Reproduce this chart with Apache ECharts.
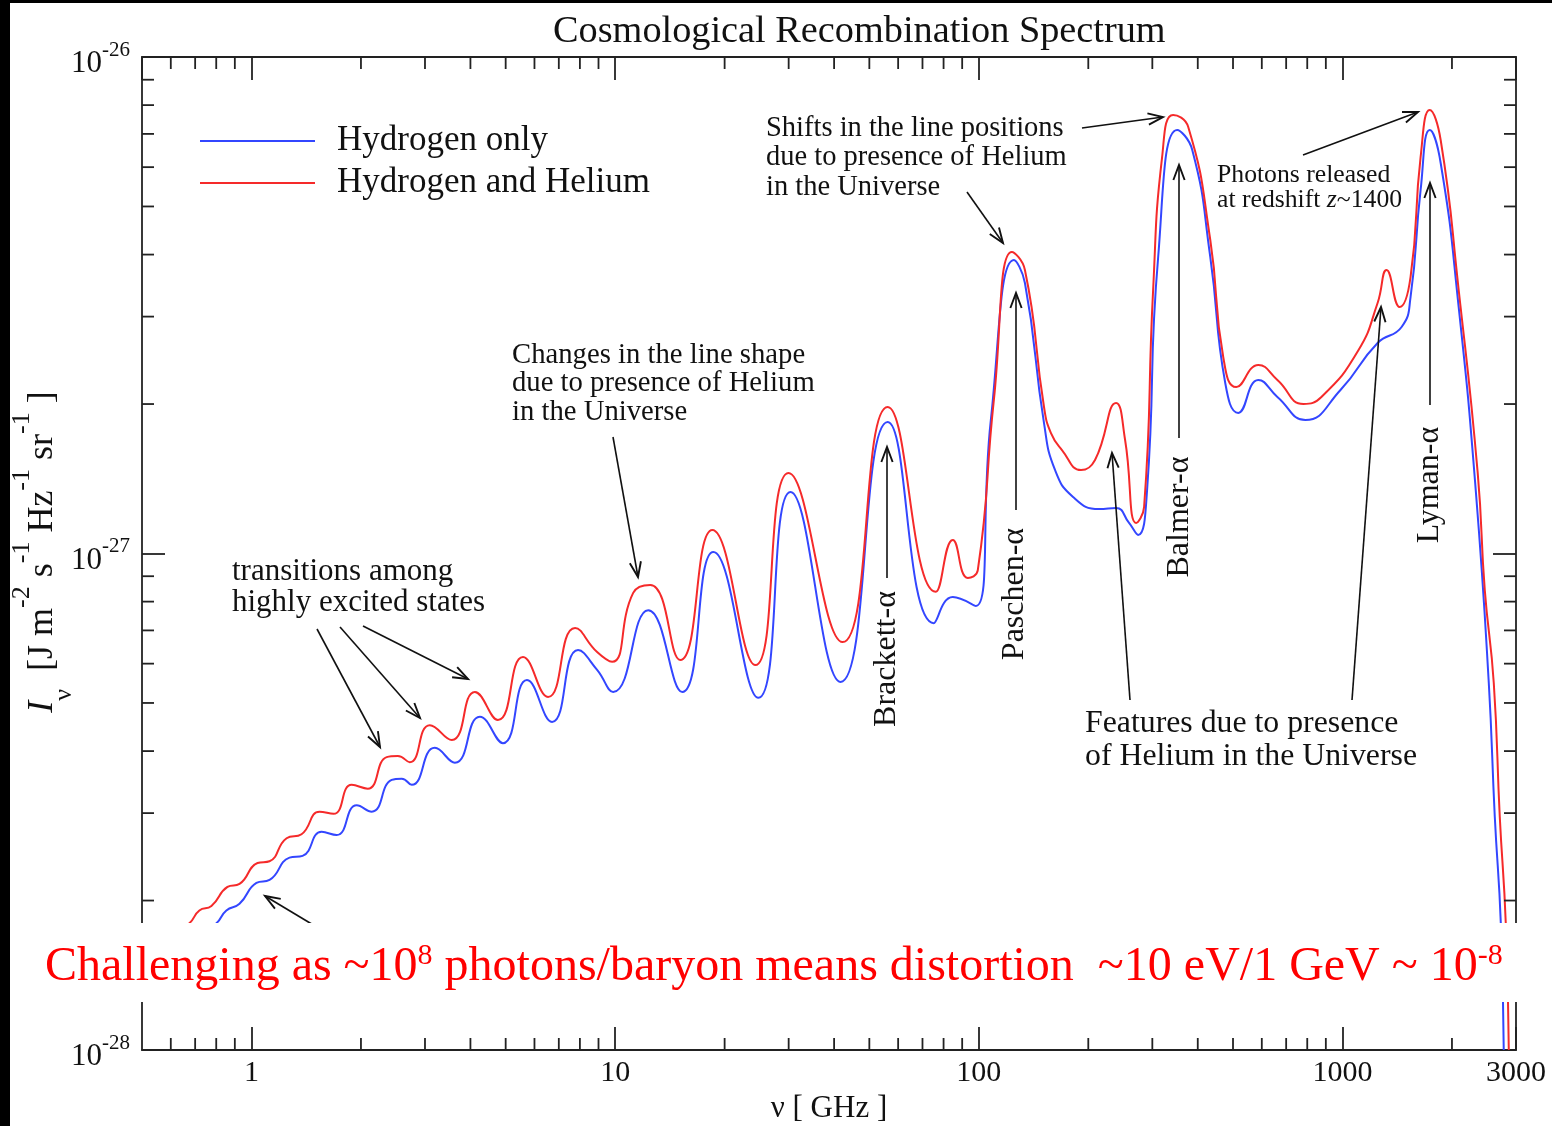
<!DOCTYPE html>
<html><head><meta charset="utf-8">
<script src="https://cdn.jsdelivr.net/npm/echarts@6/dist/echarts.min.js"></script>
<style>html,body{margin:0;padding:0;background:#fff}#c{width:1552px;height:1126px}</style>
</head><body><div id="c"></div>
<script>
// Frequency nu [GHz]; intensity I_nu in units of 1e-27 J m^-2 s^-1 Hz^-1 sr^-1
const nuH = [0.5, 0.801, 0.853, 0.927, 1.032, 1.121, 1.272, 1.382, 1.559, 1.714,
  1.947, 2.141, 2.430, 2.589, 2.759, 3.193, 3.625, 4.247, 4.914, 5.722,
  6.707, 7.908, 8.921, 9.874, 12.33, 15.30, 18.62, 24.77, 30.35, 41.68,
  56.15, 75.16, 84.80, 98.10, 107.9, 124.9, 133.9, 151.1, 162.0, 181.6,
  214.1, 238.5, 258.9, 274.2, 290.2, 311.3, 351.1, 386.3, 433.0, 476.0,
  517.0, 587.0, 662.2, 790.8, 987.4, 1249, 1454, 1539, 1640, 1737,
  1862, 2087, 2325, 2525, 2623, 2725, 2776];
const iH = [0.135, 0.180, 0.191, 0.197, 0.217, 0.220, 0.244, 0.246, 0.275, 0.271,
  0.311, 0.302, 0.350, 0.352, 0.342, 0.406, 0.379, 0.469, 0.415, 0.556,
  0.458, 0.639, 0.583, 0.526, 0.769, 0.526, 1.007, 0.512, 1.330, 0.551,
  1.840, 0.724, 0.817, 0.784, 1.857, 3.900, 3.506, 1.831, 1.473, 1.300,
  1.229, 1.235, 1.152, 1.090, 1.342, 3.955, 7.129, 6.497, 3.955, 2.205,
  1.919, 2.236, 2.067, 1.857, 2.135, 2.655, 2.859, 3.286, 5.397, 7.129,
  6.117, 3.136, 1.342, 0.549, 0.295, 0.180, 0.100];
const nuHHe = [0.5, 0.675, 0.719, 0.776, 0.859, 0.927, 1.039, 1.121, 1.249, 1.373,
  1.539, 1.682, 1.886, 2.087, 2.354, 2.525, 2.724, 3.093, 3.556, 4.115,
  4.761, 5.579, 6.538, 7.757, 8.921, 9.811, 11.21, 12.49, 15.10, 18.50,
  24.30, 29.97, 42.21, 56.15, 76.12, 84.80, 93.26, 99.37, 110.0, 123.3,
  133.9, 151.1, 157.9, 169.3, 191.0, 208.7, 238.5, 252.5, 270.7, 284.8,
  301.5, 319.2, 342.2, 376.6, 433.0, 470.0, 510.5, 587.0, 662.2, 780.8,
  875.1, 1107, 1249, 1322, 1436, 1539, 1640, 1737, 1862, 2087,
  2354, 2462, 2606, 2707, 2812, 2866];
const iHHe = [0.150, 0.180, 0.191, 0.195, 0.213, 0.216, 0.238, 0.240, 0.267, 0.272,
  0.302, 0.299, 0.342, 0.336, 0.389, 0.391, 0.380, 0.451, 0.421, 0.526,
  0.462, 0.619, 0.514, 0.708, 0.633, 0.605, 0.833, 0.864, 0.610, 1.115,
  0.596, 1.453, 0.663, 1.973, 0.837, 1.065, 0.893, 0.926, 2.038, 4.049,
  3.724, 1.973, 1.748, 1.616, 1.473, 1.543, 2.010, 1.693, 1.152, 1.241,
  3.394, 6.290, 7.641, 7.228, 4.280, 2.488, 2.164, 2.397, 2.236, 2.001,
  2.067, 2.570, 3.195, 3.724, 3.136, 3.606, 6.290, 7.821, 6.805, 3.394,
  1.453, 0.844, 0.549, 0.295, 0.180, 0.100];
const xMinorTicks = [0.6, 0.7, 0.8, 0.9, 2, 3, 4, 5, 6, 7, 8, 9, 20, 30, 40, 50, 60, 70, 80, 90,
  200, 300, 400, 500, 600, 700, 800, 900, 2000];
const yMinorTicks = [0.2, 0.3, 0.4, 0.5, 0.6, 0.7, 0.8, 0.9, 2, 3, 4, 5, 6, 7, 8, 9];
const seriesNames = ['Hydrogen only', 'Hydrogen and Helium'];
const lineLabels = ['Brackett-α', 'Paschen-α', 'Balmer-α', 'Lyman-α'];
const X_MIN = 0.5, X_MAX = 3000, Y_MIN = 0.1, Y_MAX = 10;

const FONT = '"Liberation Serif","Times New Roman",serif';
const BLUE = '#3346ff', RED = '#f52a2a', INK = '#111';

function pairs(xs, ys) { return xs.map((x, i) => [x, ys[i]]); }

function text(x, y, str, size, lh, extra) {
  return Object.assign({
    type: 'text', x: x, y: y, z: 20,
    style: { text: str, x: 0, y: 0, fill: INK, font: size + 'px ' + FONT, lineHeight: lh,
      align: 'left', verticalAlign: 'middle', textAlign: 'left', textVerticalAlign: 'middle' }
  }, extra || {});
}
function rotText(x, y, str, size) {
  return { type: 'text', x: x, y: y, rotation: Math.PI / 2, z: 20,
    style: { text: str, x: 0, y: 0, fill: INK, font: size + 'px ' + FONT,
      align: 'center', verticalAlign: 'middle', textAlign: 'center', textVerticalAlign: 'middle' } };
}
function arrow(x1, y1, x2, y2) {
  const ang = Math.atan2(y2 - y1, x2 - x1), L = 16, a = 0.36;
  const p1 = [x2 - L * Math.cos(ang - a), y2 - L * Math.sin(ang - a)];
  const p2 = [x2 - L * Math.cos(ang + a), y2 - L * Math.sin(ang + a)];
  return [
    { type: 'line', z: 20, shape: { x1: x1, y1: y1, x2: x2, y2: y2 }, style: { stroke: INK, lineWidth: 1.6 } },
    { type: 'polyline', z: 20, shape: { points: [p1, [x2, y2], p2] }, style: { stroke: INK, lineWidth: 1.9, fill: null } }
  ];
}

const graphics = [];
graphics.push(text(766, 158, 'Shifts in the line positions\ndue to presence of Helium\nin the Universe', 28.5, 29.5));
graphics.push(text(512, 383.5, 'Changes in the line shape\ndue to presence of Helium\nin the Universe', 28.7, 28.5));
graphics.push(text(232, 587.5, 'transitions among\nhighly excited states', 31, 31));
graphics.push(text(1085, 740.5, 'Features due to presence\nof Helium in the Universe', 31.8, 33));
graphics.push({ type: 'text', x: 1217, y: 187.5, z: 20,
  style: { text: '{a|Photons released}\n{a|at redshift }{z|z}{a|~1400}', x: 0, y: 0,
    align: 'left', verticalAlign: 'middle', textAlign: 'left', textVerticalAlign: 'middle',
    rich: { a: { fontFamily: FONT, fontSize: 25.7, lineHeight: 25, fill: INK },
            z: { fontFamily: FONT, fontSize: 25.7, fontStyle: 'italic', lineHeight: 25, fill: INK } } } });
graphics.push(rotText(887, 659, lineLabels[0], 32));
graphics.push(rotText(1015, 594, lineLabels[1], 32));
graphics.push(rotText(1180, 517, lineLabels[2], 32));
graphics.push(rotText(1430, 485, lineLabels[3], 32));
graphics.push({ type: 'text', x: 43, y: 552, rotation: Math.PI / 2, z: 20,
  style: { text: '{i|I}{sub|ν}{n|  [J m}{sup|-2}{n| s}{sup|-1}{n| Hz}{sup|-1}{n| sr}{sup|-1}{n| ]}', x: 0, y: 0,
    align: 'center', verticalAlign: 'middle', textAlign: 'center', textVerticalAlign: 'middle',
    rich: {
      n: { fontFamily: FONT, fontSize: 36, lineHeight: 68, verticalAlign: 'middle', fill: INK },
      i: { fontFamily: FONT, fontSize: 36, fontStyle: 'italic', lineHeight: 68, verticalAlign: 'middle', fill: INK },
      sup: { fontFamily: FONT, fontSize: 26, verticalAlign: 'top', fill: INK },
      sub: { fontFamily: FONT, fontSize: 26, verticalAlign: 'bottom', fill: INK }
    } } });
[[1082, 128, 1163, 117], [967, 192, 1003, 243], [1303, 155, 1418, 112],
 [887, 578, 887, 447], [1016, 510, 1016, 293], [1179, 438, 1179, 165], [1430, 405, 1430, 183],
 [1130, 700, 1112, 453], [1352, 700, 1381, 307], [613, 437, 638, 577],
 [317, 629, 380, 747], [340, 627, 420, 718], [363, 626, 468, 679], [330, 935, 265, 896]
].forEach(a => graphics.push.apply(graphics, arrow(a[0], a[1], a[2], a[3])));
graphics.push({ type: 'rect', z: 100, shape: { x: 10, y: 923, width: 1542, height: 79 }, style: { fill: '#fff' } });
graphics.push({ type: 'text', x: 45, y: 966, z: 101,
  style: { text: '{a|Challenging as ~10}{s|8}{a| photons/baryon means distortion  ~10 eV/1 GeV ~ 10}{s|-8}', x: 0, y: 0,
    align: 'left', verticalAlign: 'middle', textAlign: 'left', textVerticalAlign: 'middle',
    rich: { a: { fontFamily: FONT, fontSize: 48, lineHeight: 50, verticalAlign: 'bottom', fill: '#ff0000' },
            s: { fontFamily: FONT, fontSize: 30, verticalAlign: 'top', fill: '#ff0000' } } } });
graphics.push({ type: 'rect', z: 200, shape: { x: 0, y: 0, width: 10, height: 1126 }, style: { fill: '#000' } });
graphics.push({ type: 'rect', z: 200, shape: { x: 0, y: 0, width: 1552, height: 3 }, style: { fill: '#000' } });

const axisLineStyle = { color: '#222', width: 1.8 };
const tickStyle = { color: '#222', width: 1.8 };

function xTicksRender(params, api) {
  const v = api.value(0);
  const b = api.coord([v, Y_MIN]), t = api.coord([v, Y_MAX]);
  return { type: 'group', children: [
    { type: 'line', shape: { x1: b[0], y1: b[1], x2: b[0], y2: b[1] - 12 }, style: { stroke: '#222', lineWidth: 1.8 } },
    { type: 'line', shape: { x1: t[0], y1: t[1], x2: t[0], y2: t[1] + 12 }, style: { stroke: '#222', lineWidth: 1.8 } }
  ] };
}
function yTicksRender(params, api) {
  const v = api.value(1);
  const l = api.coord([X_MIN, v]), r = api.coord([X_MAX, v]);
  return { type: 'group', children: [
    { type: 'line', shape: { x1: l[0], y1: l[1], x2: l[0] + 12, y2: l[1] }, style: { stroke: '#222', lineWidth: 1.8 } },
    { type: 'line', shape: { x1: r[0], y1: r[1], x2: r[0] - 12, y2: r[1] }, style: { stroke: '#222', lineWidth: 1.8 } }
  ] };
}

const chart = echarts.init(document.getElementById('c'), null, { renderer: 'canvas' });
chart.setOption({
  animation: false,
  backgroundColor: '#fff',
  title: { text: 'Cosmological Recombination Spectrum', left: 553, top: 11, padding: 0,
    textStyle: { fontFamily: FONT, fontSize: 38.3, fontWeight: 'normal', color: INK, lineHeight: 42 } },
  legend: { data: seriesNames, orient: 'vertical', left: 200, top: 120, padding: 0, itemGap: 0,
    itemWidth: 115, itemHeight: 2, icon: 'rect', selectedMode: false,
    textStyle: { fontFamily: FONT, fontSize: 35, color: INK, lineHeight: 42, padding: [0, 0, 0, 17] } },
  grid: { left: 142, right: 36, top: 57, bottom: 76, containLabel: false, outerBoundsMode: 'none' },
  xAxis: [
    { type: 'log', logBase: 10, min: X_MIN, max: X_MAX, position: 'bottom',
      name: 'ν [ GHz ]', nameLocation: 'middle', nameGap: 41,
      nameTextStyle: { fontFamily: FONT, fontSize: 31, color: INK },
      axisLine: { show: true, lineStyle: axisLineStyle },
      axisTick: { show: true, inside: true, length: 23, lineStyle: tickStyle },
      axisLabel: { show: true, margin: 8, fontFamily: FONT, fontSize: 30, color: INK,
        showMinLabel: false, showMaxLabel: true,
        formatter: v => (v < 0.9 ? '' : String(Math.round(v))) },
      splitLine: { show: false }, minorTick: { show: false } },
    { type: 'log', logBase: 10, min: X_MIN, max: X_MAX, position: 'top',
      axisLine: { show: true, lineStyle: axisLineStyle },
      axisTick: { show: true, inside: true, length: 23, lineStyle: tickStyle },
      axisLabel: { show: false }, splitLine: { show: false } }
  ],
  yAxis: [
    { type: 'log', logBase: 10, min: Y_MIN, max: Y_MAX, position: 'left',
      axisLine: { show: true, lineStyle: axisLineStyle },
      axisTick: { show: true, inside: true, length: 23, lineStyle: tickStyle },
      axisLabel: { show: true, margin: 12, color: INK,
        formatter: v => '{b|10}{s|' + (Math.round(Math.log10(v)) - 27) + '}',
        rich: { b: { fontFamily: FONT, fontSize: 31, lineHeight: 45, verticalAlign: 'bottom', color: INK },
                s: { fontFamily: FONT, fontSize: 21, verticalAlign: 'top', padding: [5, 0, 0, 0], color: INK } } },
      splitLine: { show: false } },
    { type: 'log', logBase: 10, min: Y_MIN, max: Y_MAX, position: 'right',
      axisLine: { show: true, lineStyle: axisLineStyle },
      axisTick: { show: true, inside: true, length: 23, lineStyle: tickStyle },
      axisLabel: { show: false }, splitLine: { show: false } }
  ],
  series: [
    { name: seriesNames[0], type: 'line', data: pairs(nuH, iH), smooth: 0.5,
      showSymbol: false, symbol: 'none', color: BLUE, lineStyle: { color: BLUE, width: 2 }, itemStyle: { color: BLUE }, z: 3 },
    { name: seriesNames[1], type: 'line', data: pairs(nuHHe, iHHe), smooth: 0.5,
      showSymbol: false, symbol: 'none', color: RED, lineStyle: { color: RED, width: 2 }, itemStyle: { color: RED }, z: 3 },
    { type: 'custom', silent: true, z: 4, data: xMinorTicks.map(v => [v, 1]), renderItem: xTicksRender },
    { type: 'custom', silent: true, z: 4, data: yMinorTicks.map(v => [1, v]), renderItem: yTicksRender }
  ],
  graphic: { elements: graphics }
});
</script>
</body></html>
